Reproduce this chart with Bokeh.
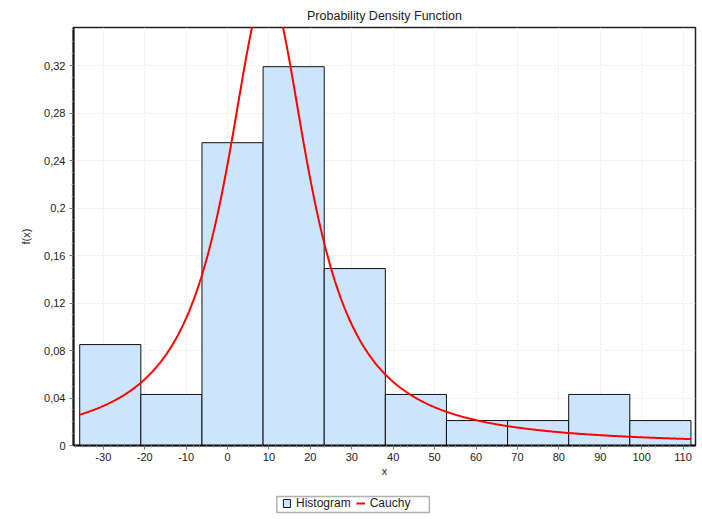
import numpy as np
from bokeh.plotting import figure
from bokeh.layouts import column
from bokeh.models import Legend, LegendItem, FixedTicker, Range1d, ColumnDataSource
from bokeh.embed import file_html
from bokeh.resources import INLINE

# Histogram bins (edges) and relative frequencies
bin_edges = [-35.7, -20.94, -6.18, 8.58, 23.34, 38.1, 52.86, 67.62, 82.38, 97.14, 111.9]
frequencies = [0.085, 0.043, 0.255, 0.319, 0.149, 0.043, 0.021, 0.021, 0.043, 0.021]

# Fitted Cauchy distribution, scaled to the histogram's bin width
cauchy_location = 9.65
cauchy_scale = 12.2
bin_width = 14.76

x_ticks = [-30, -20, -10, 0, 10, 20, 30, 40, 50, 60, 70, 80, 90, 100, 110]
x_tick_labels = ["-30", "-20", "-10", "0", "10", "20", "30", "40", "50", "60", "70",
                 "80", "90", "100", "110"]
y_ticks = [0, 0.04, 0.08, 0.12, 0.16, 0.2, 0.24, 0.28, 0.32]
y_tick_labels = ["0", "0,04", "0,08", "0,12", "0,16", "0,2", "0,24", "0,28", "0,32"]

FONT = "Liberation Sans"
BAR_STYLE = dict(fill_color="#cce4fc", line_color="#111111", line_width=1)
CURVE_STYLE = dict(line_color="#ff0000", line_width=2)

p = figure(width=702, height=489, output_backend="svg", toolbar_location=None,
           x_range=Range1d(-37.2, 113.0), y_range=Range1d(0, 0.352),
           title="Probability Density Function",
           min_border_left=73, min_border_right=7, min_border_top=27, min_border_bottom=44)
p.background_fill_color = "white"
p.border_fill_color = "white"
p.outline_line_color = "#222222"
p.outline_line_width = 1.5

p.title.align = "center"
p.title.text_font = FONT
p.title.text_font_size = "12.5px"
p.title.text_font_style = "normal"
p.title.text_color = "#222222"

hist_src = ColumnDataSource(dict(left=bin_edges[:-1], right=bin_edges[1:],
                                 top=frequencies, bottom=[0] * len(frequencies)))
p.quad(left="left", right="right", top="top", bottom="bottom", source=hist_src, **BAR_STYLE)

xs = np.linspace(bin_edges[0], bin_edges[-1], 600)
pdf = bin_width / (np.pi * cauchy_scale * (1 + ((xs - cauchy_location) / cauchy_scale) ** 2))
p.line(xs, pdf, **CURVE_STYLE)

for ax in (p.xaxis[0], p.yaxis[0]):
    ax.axis_line_color = "#111111"
    ax.axis_line_width = 2
    ax.major_tick_line_color = "#777777"
    ax.major_tick_out = 4
    ax.major_tick_in = 0
    ax.minor_tick_line_color = "#999999"
    ax.minor_tick_out = 2
    ax.minor_tick_in = 0
    ax.major_label_text_font = FONT
    ax.major_label_text_font_size = "11px"
    ax.major_label_text_color = "#222222"
    ax.axis_label_text_font = FONT
    ax.axis_label_text_font_size = "11px"
    ax.axis_label_text_font_style = "normal"
    ax.axis_label_text_color = "#222222"

p.xaxis.ticker = FixedTicker(ticks=x_ticks,
                             minor_ticks=[t + k * 10 / 6 for t in [-40] + x_ticks for k in range(1, 6)])
p.yaxis.ticker = FixedTicker(ticks=y_ticks,
                             minor_ticks=[t + k * 0.01 for t in y_ticks for k in range(1, 4)])
p.xaxis.major_label_overrides = {t: s for t, s in zip(x_ticks, x_tick_labels)}
p.yaxis.major_label_overrides = {t: s for t, s in zip(y_ticks, y_tick_labels)}
p.xaxis.axis_label = "x"
p.yaxis.axis_label = "f(x)"
p.xaxis.major_label_standoff = 3
p.yaxis.major_label_standoff = 4
p.xaxis.axis_label_standoff = 1
p.yaxis.axis_label_standoff = 9

p.xgrid.grid_line_color = "#ebebd6"
p.ygrid.grid_line_color = "#ebebd6"
p.xgrid.grid_line_dash = "2 2"
p.ygrid.grid_line_dash = "2 2"

# Legend strip below the chart; its frame lines up with the chart frame (x 73..697),
# so the ranges are set to read in page pixels
lg = figure(width=702, height=30, output_backend="svg", toolbar_location=None,
            x_range=Range1d(73, 697), y_range=Range1d(0, 30),
            min_border_left=0, min_border_right=0, min_border_top=0, min_border_bottom=0)
lg.axis.visible = False
lg.grid.visible = False
lg.outline_line_color = None
lg.background_fill_color = "white"
lg.border_fill_color = "white"
lg.quad(left=[277], right=[430], bottom=[7], top=[23],
        fill_color="white", line_color="#b0b0b0", line_width=1.5)
# Off-screen glyphs that only supply the legend swatches
hist_key = lg.quad(left=[800], right=[810], top=[50], bottom=[40], **BAR_STYLE)
curve_key = lg.line(x=[800, 810], y=[50, 50], **CURVE_STYLE)

legend = Legend(items=[LegendItem(label="Histogram", renderers=[hist_key]),
                       LegendItem(label="Cauchy", renderers=[curve_key])],
                orientation="horizontal", location=(209, 9),
                glyph_width=9, glyph_height=10, label_text_font=FONT,
                label_text_font_size="12px", label_text_color="#222222",
                label_standoff=5, spacing=5, padding=0, margin=0,
                border_line_color=None, background_fill_alpha=0,
                label_height=12)
lg.add_layout(legend, "center")

open("out.html", "w").write(file_html(column(p, lg, spacing=0), INLINE))
